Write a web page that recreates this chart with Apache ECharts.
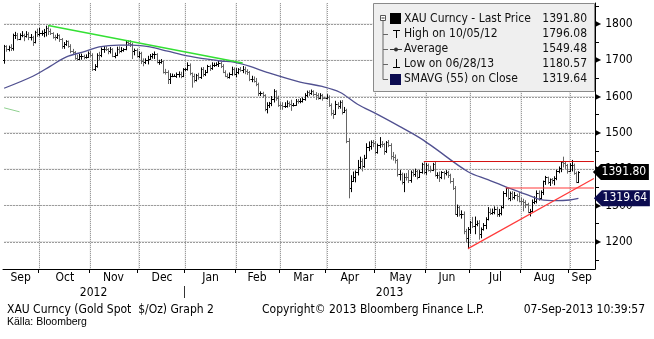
<!DOCTYPE html>
<html><head><meta charset="utf-8">
<script src="https://cdn.jsdelivr.net/npm/echarts@6/dist/echarts.min.js"></script>
<style>html,body{margin:0;padding:0;background:#fff}#c{width:654px;height:339px}</style>
</head><body><div id="c"></div>
<script>
// ---------- categories: trading weekdays from 07-Sep-2012 (plus a few empty days at the right) ----------
const categories = [];
(function(){ let d = new Date(Date.UTC(2012, 8, 7)); while (categories.length < 268) { const w = d.getUTCDay(); if (w !== 0 && w !== 6) categories.push(d.toISOString().slice(0, 10)); d.setUTCDate(d.getUTCDate() + 1); } })();
const monthNames = ['Jan','Feb','Mar','Apr','May','Jun','Jul','Aug','Sep','Oct','Nov','Dec'];

// ---------- daily OHLC (Sep-2012 .. Sep-2013) ----------
const openV = [
 1701,1740,1731,1737,1734,1769,1771,1760,1769,1770,1767,1773,1763,1764,1751,1777,
 1773,1775,1776,1777,1790,1781,1775,1764,1763,1769,1758,1739,1745,1752,1739,1725,1723,1706,1703,1712,1713,1709,1710,
 1719,1715,1676,1683,1715,1714,1731,1731,1730,1725,1731,1713,1714,1732,1726,1728,1730,1751,1749,1745,1725,1728,
 1713,1720,1697,1694,1701,1704,1712,1716,1717,1695,1696,1697,1669,1668,1648,1657,1658,1658,1662,1663,1656,
 1675,1675,1688,1664,1656,1646,1659,1654,1675,1661,1668,1683,1680,1687,1687,1691,1692,1685,1669,1657,1654,1662,1677,
 1663,1667,1675,1674,1676,1671,1667,1649,1649,1643,1635,1609,1610,1603,1565,1578,1581,1593,1615,1596,
 1578,1576,1573,1574,1583,1579,1577,1578,1589,1588,1589,1592,1604,1613,1609,1614,1606,1605,1597,1605,1597,
 1596,1600,1576,1554,1553,1579,1574,1586,1558,1564,1477,1348,1368,1377,1393,1406,1423,1409,1432,1462,1463,1475,
 1472,1446,1467,1470,1469,1449,1474,1467,1436,1433,1425,1386,1387,1365,1378,1377,1369,1392,1386,1394,1379,1391,1413,
 1393,1411,1398,1397,1414,1383,1385,1378,1391,1388,1392,1384,1366,1349,1276,1297,1276,1276,1230,1211,
 1234,1254,1243,1250,1252,1222,1234,1245,1263,1281,1278,1283,1290,1276,1279,1295,1335,1347,1321,1335,1322,1329,1326,
 1313,1311,1309,1303,1283,1285,1310,1312,1334,1320,1336,1366,1377,1365,1372,1370,1376,1395,1403,1420,1418,1411,
 1395,1412,1412,1389,1365];
const highV = [
 1741,1740,1739,1743,1772,1777,1774,1773,1779,1772,1779,1776,1771,1766,1780,1786,
 1788,1781,1785,1794,1796,1786,1776,1769,1773,1770,1760,1749,1754,1753,1743,1730,1724,1714,1717,1717,1714,1715,1723,
 1725,1718,1688,1718,1722,1734,1738,1737,1732,1735,1732,1720,1736,1737,1735,1732,1754,1754,1754,1747,1731,1731,
 1723,1722,1704,1704,1711,1716,1718,1723,1718,1700,1702,1698,1675,1671,1663,1662,1660,1665,1668,1667,1677,
 1677,1693,1690,1665,1662,1661,1664,1679,1680,1672,1686,1686,1693,1692,1693,1697,1694,1688,1671,1662,1665,1681,1679,
 1677,1677,1680,1683,1681,1674,1669,1656,1654,1650,1637,1613,1612,1605,1583,1584,1600,1619,1616,1601,
 1583,1583,1583,1588,1585,1590,1581,1592,1592,1594,1596,1608,1615,1616,1618,1616,1611,1608,1608,1606,1598,
 1605,1602,1580,1562,1587,1583,1588,1589,1570,1565,1484,1382,1392,1395,1424,1433,1428,1438,1470,1475,1478,1479,
 1476,1469,1487,1476,1471,1476,1479,1470,1446,1439,1427,1396,1389,1387,1388,1396,1395,1397,1400,1397,1396,1416,1418,
 1416,1414,1408,1416,1419,1390,1392,1393,1393,1396,1394,1386,1374,1352,1301,1298,1285,1282,1234,1239,
 1256,1267,1268,1257,1258,1238,1250,1266,1294,1290,1290,1296,1295,1289,1298,1338,1348,1347,1337,1338,1336,1331,1335,
 1320,1317,1313,1306,1289,1315,1324,1340,1340,1340,1367,1380,1378,1373,1374,1379,1397,1406,1420,1433,1420,1413,
 1415,1424,1414,1392,1393];
const lowV = [
 1692,1725,1726,1727,1728,1760,1756,1757,1765,1754,1764,1757,1756,1741,1748,1766,
 1767,1769,1765,1767,1771,1771,1761,1756,1760,1752,1733,1733,1741,1736,1721,1718,1703,1700,1702,1703,1704,1706,1708,
 1711,1672,1672,1681,1701,1710,1722,1727,1718,1720,1710,1707,1713,1720,1723,1725,1729,1743,1738,1705,1715,1709,
 1707,1691,1685,1691,1690,1702,1706,1705,1693,1689,1692,1665,1662,1636,1636,1655,1656,1653,1654,1652,1655,
 1672,1673,1660,1626,1640,1643,1648,1650,1656,1658,1666,1672,1675,1683,1685,1683,1680,1666,1655,1651,1651,1659,1660,
 1655,1663,1670,1666,1663,1661,1644,1641,1640,1630,1603,1603,1598,1561,1555,1570,1575,1585,1590,1573,
 1565,1565,1570,1571,1573,1562,1574,1576,1582,1583,1585,1590,1600,1603,1606,1602,1592,1593,1594,1590,1595,
 1594,1573,1549,1540,1551,1567,1568,1552,1556,1473,1321,1338,1366,1365,1384,1402,1395,1405,1430,1451,1455,1462,
 1442,1444,1460,1462,1441,1446,1462,1428,1425,1417,1381,1370,1359,1338,1370,1363,1364,1381,1380,1373,1377,1389,1387,
 1386,1395,1392,1396,1381,1375,1366,1374,1373,1384,1377,1362,1344,1275,1270,1271,1265,1222,1200,1181,
 1223,1239,1222,1244,1207,1211,1232,1236,1260,1275,1276,1277,1270,1270,1274,1293,1325,1316,1313,1316,1318,1313,1310,
 1301,1285,1294,1280,1271,1283,1305,1307,1314,1318,1330,1358,1360,1355,1361,1357,1371,1390,1393,1406,1402,1389,
 1393,1395,1386,1363,1363];
const closeV = [
 1740,1731,1737,1734,1769,1771,1760,1769,1770,1767,1773,1763,1764,1751,1777,1773,
 1775,1776,1777,1790,1781,1775,1764,1763,1769,1758,1739,1745,1752,1739,1725,1723,1706,1703,1712,1713,1709,1710,1719,
 1715,1676,1683,1715,1714,1731,1731,1730,1725,1731,1713,1714,1732,1726,1728,1730,1751,1749,1745,1725,1728,1713,
 1720,1697,1694,1701,1704,1712,1716,1717,1695,1696,1697,1669,1668,1648,1657,1658,1658,1662,1663,1656,1675,
 1675,1688,1664,1656,1646,1659,1654,1675,1661,1668,1683,1680,1687,1687,1691,1692,1685,1669,1657,1654,1662,1677,1663,
 1667,1675,1674,1676,1671,1667,1649,1649,1643,1635,1609,1610,1603,1565,1578,1581,1593,1615,1596,1578,
 1576,1573,1574,1583,1579,1577,1578,1589,1588,1589,1592,1604,1613,1609,1614,1606,1605,1597,1605,1597,1596,
 1600,1576,1554,1553,1579,1574,1586,1558,1564,1477,1348,1368,1377,1393,1406,1423,1409,1432,1462,1463,1475,1472,
 1446,1467,1470,1469,1449,1474,1467,1436,1433,1425,1386,1387,1365,1378,1377,1369,1392,1386,1394,1379,1391,1413,1393,
 1411,1398,1397,1414,1383,1385,1378,1391,1388,1392,1384,1366,1349,1276,1297,1276,1276,1230,1211,1234,
 1254,1243,1250,1252,1222,1234,1245,1263,1281,1278,1283,1290,1276,1279,1295,1335,1347,1321,1335,1322,1329,1326,1313,
 1311,1309,1303,1283,1285,1310,1312,1334,1320,1336,1366,1377,1365,1372,1370,1376,1395,1403,1420,1418,1411,1395,
 1412,1412,1389,1365,1391.8];

// ---------- SMAVG(55) ----------
const smaIdx = [0,13,21,28,37,43,52,58,66,74,83,92,98,104,111,119,134,144,152,160,169,179,188,194,210,219,228,237,243,250,256,260];
const smaVal = [1623,1656,1684,1709,1725,1737,1742,1742,1737,1725,1712,1703,1698,1695,1684,1667,1640,1628,1612,1579,1551,1518,1487,1462,1393,1371,1349,1329,1316,1313,1315,1319.64];

// ---------- drawn trend lines [categoryIndex, price] ----------
const greenTrend = [[20,1796.08],[108,1692.5]];
const greenStub  = [[0,1569],[7,1558]];
const redTop     = [[190,1421],[267,1421]];
const redMid     = [[227,1348],[267,1348]];
const redRise    = [[210,1181],[267,1374]];

// ---------- axis / legend text ----------
const yMin = 1124.8, yMax = 1857.9;
const yLabels = [1200,1300,1400,1500,1600,1700,1800];
const yMinor  = [1150,1250,1350,1450,1550,1650,1750,1850];
const lastPrice = 1391.80, smaLast = 1319.64;
const legendLabels = ['XAU Curncy - Last Price','High on 10/05/12','Average','Low on 06/28/13','SMAVG (55) on Close'];
const legendValues = ['1391.80','1796.08','1549.48','1180.57','1319.64'];

// ---------- derived index sets ----------
const boundaries = categories.concat(['end']);
const monthStart = new Set(), monthMid = new Set(), yearMid = new Set(); let yearStart = -1;
(function(){
  const groups = (keyLen) => { const g = []; categories.forEach((c,i)=>{ const k=c.slice(0,keyLen); if(!g.length||g[g.length-1].k!==k) g.push({k,a:i,b:i}); else g[g.length-1].b=i; }); return g; };
  groups(7).forEach(g => { if (g.a > 0) monthStart.add(g.a); monthMid.add(Math.round((g.a+g.b+1)/2)); });
  groups(4).forEach(g => { if (g.a > 0) yearStart = g.a; yearMid.add(Math.round((g.a+g.b+1)/2)); });
})();

const FONT = "'DejaVu Sans Condensed','DejaVu Sans',sans-serif";
const ohlc = closeV.map((c,i)=>[i, openV[i], highV[i], lowV[i], c]);
const lastCat = categories.length - 1;
// grid lines as [fromCategory, fromPrice, toCategory, toPrice]
const gridData = yLabels.map(v=>[0, v, lastCat, v]).concat([...monthStart].map(k=>[k, yMax, k, yMin]));

const chart = echarts.init(document.getElementById('c'));
const tagPath = 'path://M0,8 L8,0 L56,0 L56,16 L8,16 Z';
const S = (o) => Object.assign({xAxisIndex:1, yAxisIndex:0}, o);
const DOT = '#9c9c9c';

const series = [];
// faint solid under-line for every grid line
gridData.forEach(r => series.push(S({type:'line', data:[[r[0], r[1]],[r[2], r[3]]], showSymbol:false, z:0, silent:true,
  lineStyle:{color:'#dedede', width:1}})));
// dotted pattern on top
series.push(S({type:'custom', name:'grid', data:gridData, z:1, silent:true, encode:{x:0, y:1},
   renderItem:function(params, api){
     const p0 = api.coord([api.value(0), api.value(1)]), p1 = api.coord([api.value(2), api.value(3)]);
     const kids = [];
     if (Math.abs(p0[1]-p1[1]) < 1) {
       const y = Math.round(p0[1]) - 0.5 + 0.5;
       for (let x = Math.round(p0[0]); x < p1[0] + 1; x += 3) kids.push({type:'rect', shape:{x:x, y:y, width:2, height:1}, style:{fill:DOT}});
     } else {
       const x = Math.round(p0[0]);
       for (let y = Math.round(p0[1]); y < p1[1] - 1; y += 2) kids.push({type:'rect', shape:{x:x, y:y, width:1, height:1}, style:{fill:DOT}});
     }
     return {type:'group', children:kids};
   }}));
series.push(
  S({type:'custom', name:'XAU', data:ohlc, z:2, encode:{x:0, y:[1,2,3,4]},
   renderItem:function(params, api){
     const i = api.value(0), o = api.value(1), h = api.value(2), l = api.value(3), c = api.value(4);
     const ph = api.coord([i,h]), pl = api.coord([i,l]);
     const x = Math.round(ph[0]) + 0.5;
     const yo = Math.round(api.coord([i,o])[1]) + 0.5, yc = Math.round(api.coord([i,c])[1]) + 0.5;
     const col = c >= o ? '#000000' : '#666666';
     return {type:'group', children:[
       {type:'line', shape:{x1:x, y1:ph[1]-0.5, x2:x, y2:pl[1]+0.5}, style:{stroke:col, lineWidth:1}},
       {type:'line', shape:{x1:x-1.5, y1:yo, x2:x, y2:yo}, style:{stroke:col, lineWidth:1}},
       {type:'line', shape:{x1:x, y1:yc, x2:x+1.5, y2:yc}, style:{stroke:col, lineWidth:1}}
     ]};
   }}),
  S({type:'line', name:'SMAVG', data:smaIdx.map((x,k)=>[x, smaVal[k]]), smooth:0.35, showSymbol:false, z:3,
   lineStyle:{color:'#505090', width:1.3}, silent:true,
   markPoint:{silent:true, animation:false, symbol:tagPath, symbolSize:[56,16], symbolKeepAspect:false,
     label:{show:true, position:'inside', color:'#fff', fontSize:12, fontFamily:FONT, offset:[3,0], formatter:'{b}'},
     data:[
       {name:lastPrice.toFixed(2), coord:[lastCat, lastPrice], symbolOffset:[27,0], itemStyle:{color:'#000'}},
       {name:smaLast.toFixed(2), coord:[lastCat, smaLast], symbolOffset:[28,0], itemStyle:{color:'#0b0b4f'}}
     ]}}),
  S({type:'line', data:greenTrend, showSymbol:false, z:4, silent:true, lineStyle:{color:'#33e033', width:1.5}}),
  S({type:'line', data:greenStub, showSymbol:false, z:4, silent:true, lineStyle:{color:'#8fd08f', width:1}}),
  S({type:'line', data:redTop, showSymbol:false, z:4, silent:true, lineStyle:{color:'#d41010', width:1}}),
  S({type:'line', data:redMid, showSymbol:false, z:4, silent:true, lineStyle:{color:'#ff3a3a', width:1.2}}),
  S({type:'line', data:redRise, showSymbol:false, z:4, silent:true, lineStyle:{color:'#ff3a3a', width:1.2}})
);

const option = {
  animation:false,
  textStyle:{fontFamily:FONT},
  grid:{left:3, right:59, top:3, bottom:70, containLabel:false, outerBoundsMode:'none'},
  xAxis:[{
    type:'category', data:boundaries, boundaryGap:false, position:'bottom',
    axisLine:{show:true, lineStyle:{color:'#000', width:1}},
    axisTick:{show:true, interval:(i)=>monthStart.has(i), length:4, lineStyle:{color:'#000'}},
    axisLabel:{interval:(i)=>monthMid.has(i), formatter:(v)=>monthNames[+v.slice(5,7)-1], color:'#000', fontSize:12, margin:3, fontFamily:FONT},
    splitLine:{show:false}
  },{
    type:'category', data:categories, boundaryGap:true, position:'bottom', show:false
  },{
    type:'category', data:boundaries, boundaryGap:false, position:'bottom', offset:17,
    axisLine:{show:false},
    axisTick:{show:true, interval:(i)=>i===yearStart, length:12, lineStyle:{color:'#333'}},
    axisLabel:{interval:(i)=>yearMid.has(i), formatter:(v)=>v.slice(0,4), color:'#000', fontSize:12, margin:1, fontFamily:FONT},
    splitLine:{show:false}
  }],
  yAxis:{
    type:'value', position:'right', min:yMin, max:yMax,
    axisLine:{show:true, lineStyle:{color:'#000', width:1}},
    axisTick:{show:true, customValues:yMinor, length:4, lineStyle:{color:'#000'}},
    axisLabel:{customValues:yLabels, margin:0, color:'#000', fontFamily:FONT,
      formatter:(v)=>'{t|\u25B6}{v|'+v+'}',
      rich:{t:{fontSize:8, color:'#000', fontFamily:'DejaVu Sans'}, v:{fontSize:12, color:'#000', padding:[0,0,0,4], fontFamily:FONT}}},
    splitLine:{show:false}
  },
  series:series,
  graphic:[]
};

// legend box (Bloomberg style)
const rowsY = [19, 34, 49, 64, 79];
const g = [
  {type:'rect', shape:{x:373.5, y:3.5, width:221, height:88}, style:{fill:'#efefef', stroke:'#8a8a8a', lineWidth:1}, z:50},
  {type:'rect', shape:{x:380.5, y:15.5, width:5, height:5}, style:{fill:'#fff', stroke:'#555', lineWidth:1}, z:51},
  {type:'line', shape:{x1:381.5, y1:18, x2:384.5, y2:18}, style:{stroke:'#333', lineWidth:1}, z:52},
  {type:'line', shape:{x1:383, y1:21, x2:383, y2:79.5}, style:{stroke:'#666', lineWidth:1}, z:51},
  {type:'rect', shape:{x:390, y:13, width:11, height:11}, style:{fill:'#000'}, z:51},
  {type:'line', shape:{x1:393, y1:30.5, x2:400, y2:30.5}, style:{stroke:'#000', lineWidth:1}, z:51},
  {type:'line', shape:{x1:396.5, y1:30, x2:396.5, y2:38}, style:{stroke:'#000', lineWidth:1}, z:51},
  {type:'line', shape:{x1:390, y1:49.5, x2:402, y2:49.5}, style:{stroke:'#333', lineWidth:1}, z:51},
  {type:'circle', shape:{cx:396, cy:49.5, r:2}, style:{fill:'#333'}, z:52},
  {type:'line', shape:{x1:396.5, y1:59, x2:396.5, y2:67}, style:{stroke:'#000', lineWidth:1}, z:51},
  {type:'line', shape:{x1:393, y1:67.5, x2:400, y2:67.5}, style:{stroke:'#000', lineWidth:1}, z:51},
  {type:'rect', shape:{x:390, y:74, width:11, height:11}, style:{fill:'#0b0b4f'}, z:51}
];
[34,49,64,79].forEach(y=>g.push({type:'line', shape:{x1:383, y1:y+0.5, x2:388, y2:y+0.5}, style:{stroke:'#666', lineWidth:1}, z:51}));
legendLabels.forEach((t,k)=>{
  g.push({type:'text', x:404, y:rowsY[k], style:{text:t, fill:'#111', font:'12px '+FONT, textVerticalAlign:'middle'}, z:53});
  g.push({type:'text', x:587, y:rowsY[k], style:{text:legendValues[k], fill:'#111', font:'12px '+FONT, textAlign:'right', textVerticalAlign:'middle'}, z:53});
});
g.push({type:'text', x:7, y:310, style:{text:'XAU Curncy (Gold Spot  $/Oz) Graph 2', fill:'#000', font:'12px '+FONT, textVerticalAlign:'middle'}});
g.push({type:'text', x:262, y:310, style:{text:'Copyright\u00A9 2013 Bloomberg Finance L.P.', fill:'#000', font:'12px '+FONT, textVerticalAlign:'middle'}});
g.push({type:'text', x:645, y:310, style:{text:'07-Sep-2013 10:39:57', fill:'#000', font:'12px '+FONT, textAlign:'right', textVerticalAlign:'middle'}});
g.push({type:'text', x:7, y:322, style:{text:'K\u00e4lla: Bloomberg', fill:'#000', font:'10.5px "Liberation Sans", Arial, sans-serif', textVerticalAlign:'middle'}});
option.graphic = g;

chart.setOption(option);
</script>
</body></html>
